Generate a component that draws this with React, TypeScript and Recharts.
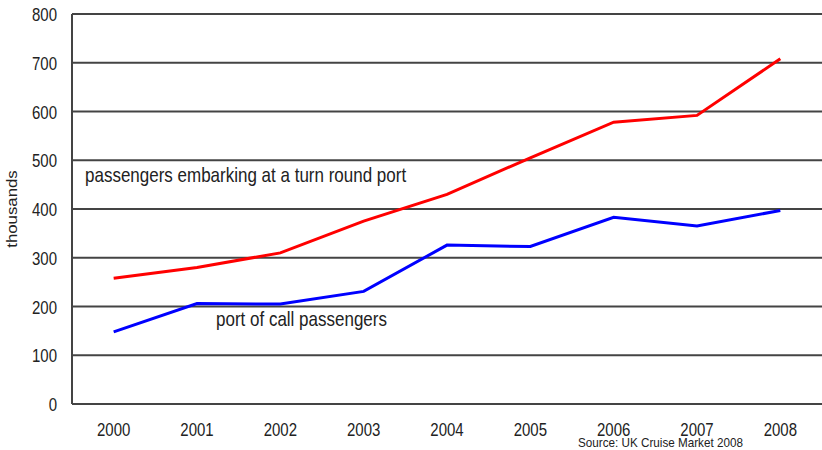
import React from 'react';
import { LineChart, Line, XAxis, YAxis, CartesianGrid, Customized } from 'recharts';

const years = ['2000', '2001', '2002', '2003', '2004', '2005', '2006', '2007', '2008'];
const embarking = [258, 280, 310, 375, 430, 505, 578, 592, 708];
const portOfCall = [148, 206, 205, 231, 326, 323, 383, 365, 397];
const yTicks = [0, 100, 200, 300, 400, 500, 600, 700, 800];

const embarkLabel = 'passengers embarking at a turn round port';
const portLabel = 'port of call passengers';
const yLabel = 'thousands';
const sourceLabel = 'Source: UK Cruise Market 2008';

const data = years.map((y, i) => ({ year: y, embarking: embarking[i], portOfCall: portOfCall[i] }));

const FONT = '"Liberation Sans", Arial, sans-serif';
const TXT = '#222';

const YTick = (props: any) => {
  const { x, y, payload } = props;
  return (
    <text
      transform={`translate(${x},${y + 7}) scale(1,1.2)`}
      textAnchor="end"
      fontFamily={FONT}
      fontSize={15}
      fill={TXT}
    >
      {payload.value}
    </text>
  );
};

const XTick = (props: any) => {
  const { x, y, payload } = props;
  return (
    <text
      transform={`translate(${x},${y}) scale(1,1.2)`}
      textAnchor="middle"
      fontFamily={FONT}
      fontSize={15}
      fill={TXT}
    >
      {payload.value}
    </text>
  );
};

const Annotations = () => (
  <g fontFamily={FONT} fill={TXT}>
    <text transform="translate(85,182) scale(1,1.2)" fontSize={17}>{embarkLabel}</text>
    <text transform="translate(216,326) scale(1,1.2)" fontSize={17}>{portLabel}</text>
    <text transform="translate(578,447) scale(1,1.1)" fontSize={11.7}>{sourceLabel}</text>
    <text transform="translate(17,209) rotate(-90) scale(1.2,1)" textAnchor="middle" fontSize={14}>{yLabel}</text>
  </g>
);

export default function App() {
  return (
    <div style={{ position: 'absolute', left: 0, top: 0, width: 822, height: 450, background: '#fff' }}>
      <LineChart width={822} height={450} data={data} margin={{ top: 14, right: 0, left: 0, bottom: 0 }}>
        <CartesianGrid vertical={false} stroke="#444" strokeWidth={2} />
        <XAxis
          dataKey="year"
          height={46}
          padding={{ left: 41.67, right: 41.67 }}
          tickLine={false}
          tickSize={0}
          tickMargin={32}
          axisLine={{ stroke: '#444', strokeWidth: 2 }}
          tick={<XTick />}
          interval={0}
        />
        <YAxis
          width={72}
          domain={[0, 800]}
          ticks={yTicks}
          tickLine={false}
          tickSize={0}
          tickMargin={15}
          axisLine={{ stroke: '#444', strokeWidth: 2 }}
          tick={<YTick />}
          interval={0}
        />
        <Line type="linear" dataKey="embarking" stroke="#ff0000" strokeWidth={3} dot={false} isAnimationActive={false} />
        <Line type="linear" dataKey="portOfCall" stroke="#0000ff" strokeWidth={3} dot={false} isAnimationActive={false} />
        <Customized component={Annotations} />
      </LineChart>
    </div>
  );
}
